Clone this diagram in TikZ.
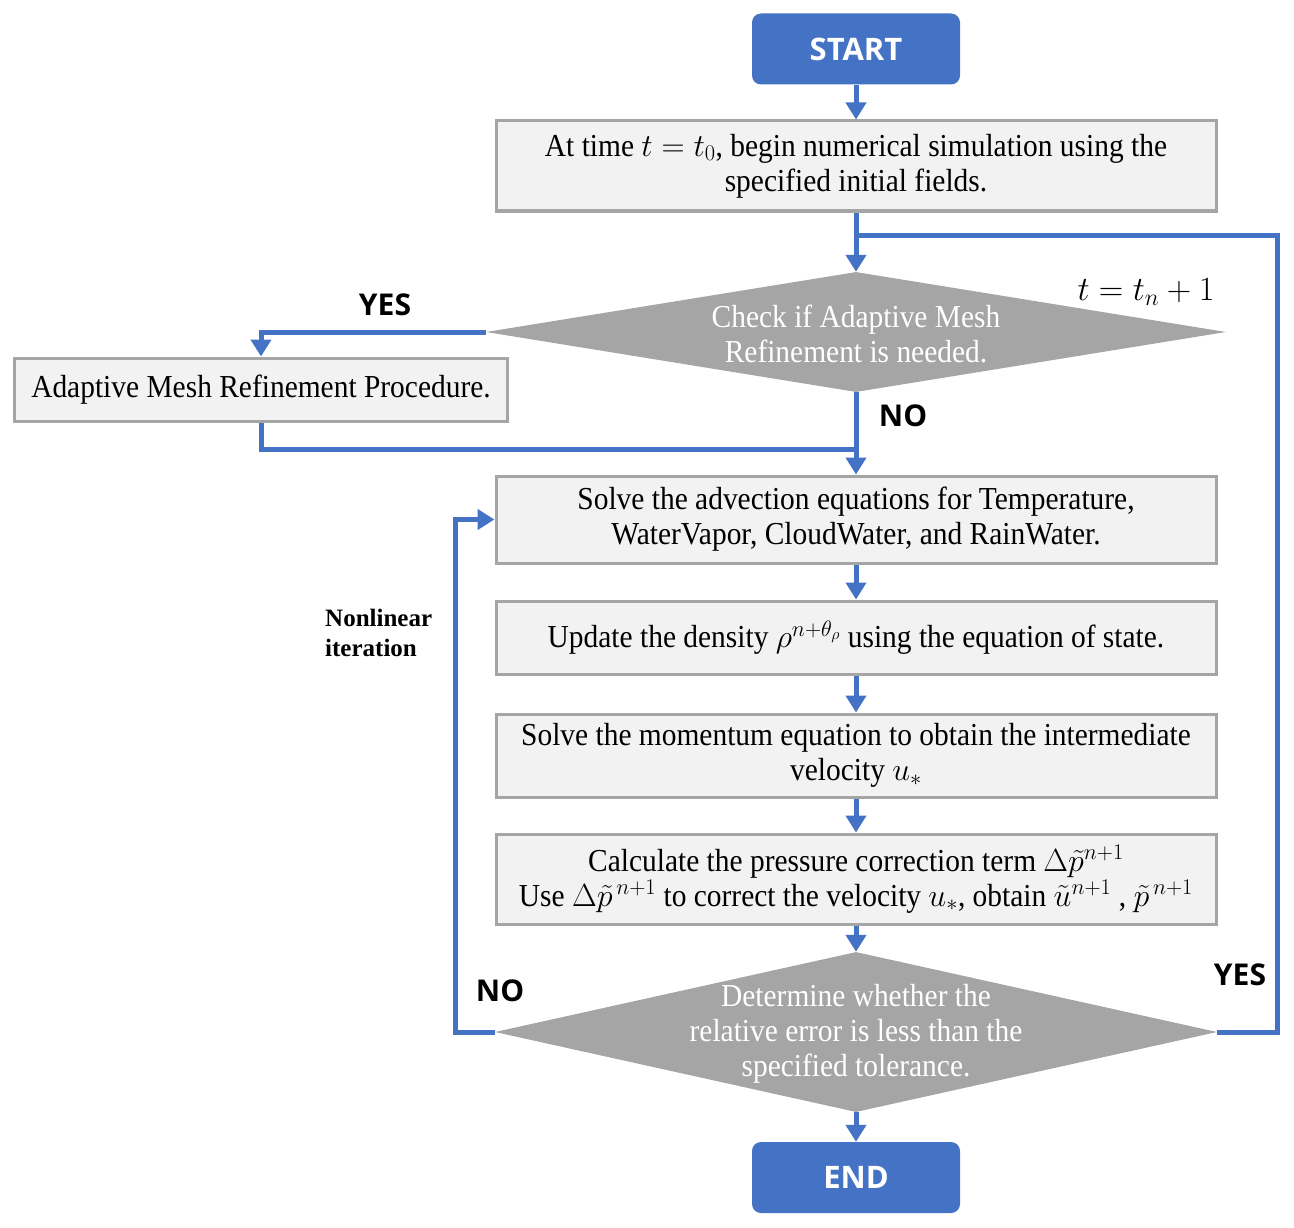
\RequirePackage{fix-cm}
\documentclass[tikz,border=0pt]{standalone}
\usepackage{fontspec}
\setmainfont{Liberation Serif}
\newfontfamily\condserif[FakeStretch=0.92]{Liberation Serif}
\newfontfamily\labelsans{Open Sans}
\usetikzlibrary{shapes.geometric,arrows.meta,positioning}
\definecolor{flowblue}{HTML}{4472C4}
\definecolor{boxfill}{HTML}{F2F2F2}
\definecolor{boxline}{HTML}{A5A5A5}
\definecolor{diafill}{HTML}{A5A5A5}
\begin{document}
\begin{tikzpicture}[x=1pt,y=-1pt,
  procbox/.style={draw=boxline,line width=3pt,fill=boxfill,minimum width=720pt,inner sep=0pt,align=center,font=\condserif\fontsize{32}{35}\selectfont},
  termbox/.style={fill=flowblue,rounded corners=9pt,minimum width=208pt,minimum height=71pt,inner sep=0pt,text=white,font=\labelsans\bfseries\fontsize{31}{34}\selectfont},
  decbox/.style={diamond,fill=diafill,inner sep=0pt},
  dectext/.style={text=white,align=center,inner sep=0pt,font=\condserif\fontsize{32}{35}\selectfont},
  flowline/.style={draw=flowblue,line width=5pt,line join=miter},
  flowarrow/.style={flowline,-{Triangle[width=20pt,length=17pt]}},
  yeslbl/.style={font=\labelsans\bfseries\fontsize{30}{34}\selectfont,inner sep=0pt},
]
\useasboundingbox (0,0) rectangle (1294,1228);

\node[termbox] (start) at (856,49) {START};
\node[procbox,minimum height=90pt] (box1) at (856,166) {At time $t=t_0$, begin numerical simulation using the\\specified initial fields.};
\node[decbox,minimum width=740pt,minimum height=120pt] (d1) at (856,332) {};
\node[dectext] (d1t) at (856,334) {Check if Adaptive Mesh\\Refinement is needed.};
\node[procbox,minimum width=493pt,minimum height=63pt] (amr) at (261,389.5) {Adaptive Mesh Refinement Procedure.};
\node[procbox,minimum height=87pt] (box2) at (856,519.5) {Solve the advection equations for Temperature,\\WaterVapor, CloudWater, and RainWater.};
\node[procbox,minimum height=73pt] (box3) at (856,637.5) {Update the density $\rho^{n+\theta_\rho}$ using the equation of state.};
\node[procbox,minimum height=83pt] (box4) at (856,755.5) {Solve the momentum equation to obtain the intermediate\\velocity $u_*$};
\node[procbox,minimum height=90pt] (box5) at (856,879) {Calculate the pressure correction term $\Delta\tilde{p}^{n+1}$\\Use $\Delta\tilde{p}^{\,n+1}$ to correct the velocity $u_*$, obtain $\tilde{u}^{n+1}$ ,\ $\tilde{p}^{\,n+1}$};
\node[decbox,minimum width=722pt,minimum height=160pt] (d2) at (856,1032) {};
\node[dectext] (d2t) at (856,1034) {Determine whether the\\relative error is less than the\\specified tolerance.};
\node[termbox] (end) at (856,1177.5) {END};

% labels
\node[yeslbl] (yes1) at (385,305) {YES};
\node[yeslbl] (no1) at (903,416) {NO};
\node[yeslbl] (no2) at (500,991) {NO};
\node[yeslbl] (yes2) at (1240,975) {YES};
\node[inner sep=0pt,font=\fontsize{34}{38}\selectfont] (tn) at (1146,292) {$t=t_n+1$};
\node[anchor=west,align=left,inner sep=0pt,font=\bfseries\fontsize{25}{30}\selectfont] (nli) at (325,633) {Nonlinear\\iteration};

% coordinates
\coordinate (lt) at (856,235);
\coordinate (rt) at (1277,235);
\coordinate (j1) at (856,449);
\coordinate (nl) at (455,1032);

% connectors
\draw[flowarrow] (start.south) -- (box1.north);
\draw[flowarrow] (box1.south) -- (d1.north);
\draw[flowline] (d2.east) -| (rt) -- (lt);
\draw[flowarrow] (d1.west) -| (amr.north);
\draw[flowline] (amr.south) |- (j1);
\draw[flowarrow] (d1.south) -- (box2.north);
\draw[flowarrow] (box2.south) -- (box3.north);
\draw[flowarrow] (box3.south) -- (box4.north);
\draw[flowarrow] (box4.south) -- (box5.north);
\draw[flowarrow] (box5.south) -- (d2.north);
\draw[flowarrow] (d2.south) -- (end.north);
\draw[flowarrow] (d2.west) -- (nl) |- (box2.west);
\end{tikzpicture}
\end{document}
